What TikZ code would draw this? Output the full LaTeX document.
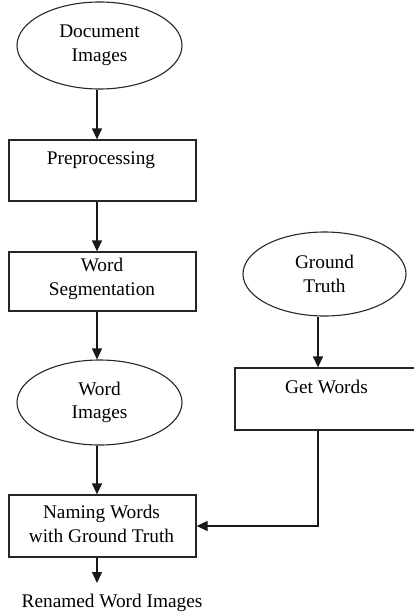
\documentclass[tikz,border=0pt]{standalone}
\usepackage{fontspec}
\setmainfont{Liberation Serif}
\usetikzlibrary{shapes.geometric,arrows.meta}
\begin{document}
\begin{tikzpicture}[x=1pt,y=-1pt,
  every node/.style={font=\fontsize{19.3}{23.5}\selectfont, text=black},
  oval/.style={draw=black!85, ellipse, line width=1.1pt, inner sep=0pt, align=center},
  boxnode/.style={draw=black!85, rectangle, line width=1.3pt, inner sep=0pt},
  lbl/.style={align=center, inner sep=0pt},
  flow/.style={draw=black!90, line width=1.3pt, -{Triangle[length=11pt,width=10pt]}}]
\useasboundingbox (0,0) rectangle (414,613);
% spines for the vertical connectors
\coordinate (sp) at (97,0);
\coordinate (gx) at (318,0);
% left column
\node[oval, minimum width=165pt, minimum height=87pt] (doc) at (99.5,45.5) {Document\\Images};
\node[boxnode, minimum width=187pt, minimum height=61pt] (prep) at (102.5,170.5) {};
\node[lbl] (preptxt) at (101,160) {Preprocessing};
\node[boxnode, minimum width=187pt, minimum height=59pt] (seg) at (102.5,281.5) {};
\node[lbl] (segtxt) at (102,279) {Word\\Segmentation};
\node[oval, minimum width=165pt, minimum height=85pt] (wimg) at (99.5,402.5) {Word\\Images};
\node[boxnode, minimum width=187pt, minimum height=62pt] (name) at (102.5,526) {};
\node[lbl] (nametxt) at (101.5,524) {Naming Words\\with Ground Truth};
\node[anchor=north, inner xsep=0pt, inner ysep=11pt] (ren) at (112,583) {Renamed Word Images};
% right column
\node[oval, minimum width=163pt, minimum height=84pt] (gt) at (324.5,274) {Ground\\Truth};
\node[boxnode, minimum width=190pt, minimum height=62pt] (gw) at (330,399) {};
\node[lbl] (gwtxt) at (326.5,387) {Get Words};
% connectors
\draw[flow] (doc.south -| sp) -- (prep.north -| sp);
\draw[flow] (prep.south -| sp) -- (seg.north -| sp);
\draw[flow] (seg.south -| sp) -- (wimg.north -| sp);
\draw[flow] (wimg.south -| sp) -- (name.north -| sp);
\draw[flow] (name.south -| sp) -- (ren.north -| sp);
\draw[flow] (gt.south -| gx) -- (gw.north -| gx);
\draw[flow] (gw.south -| gx) |- (name.east);
\end{tikzpicture}
\end{document}
